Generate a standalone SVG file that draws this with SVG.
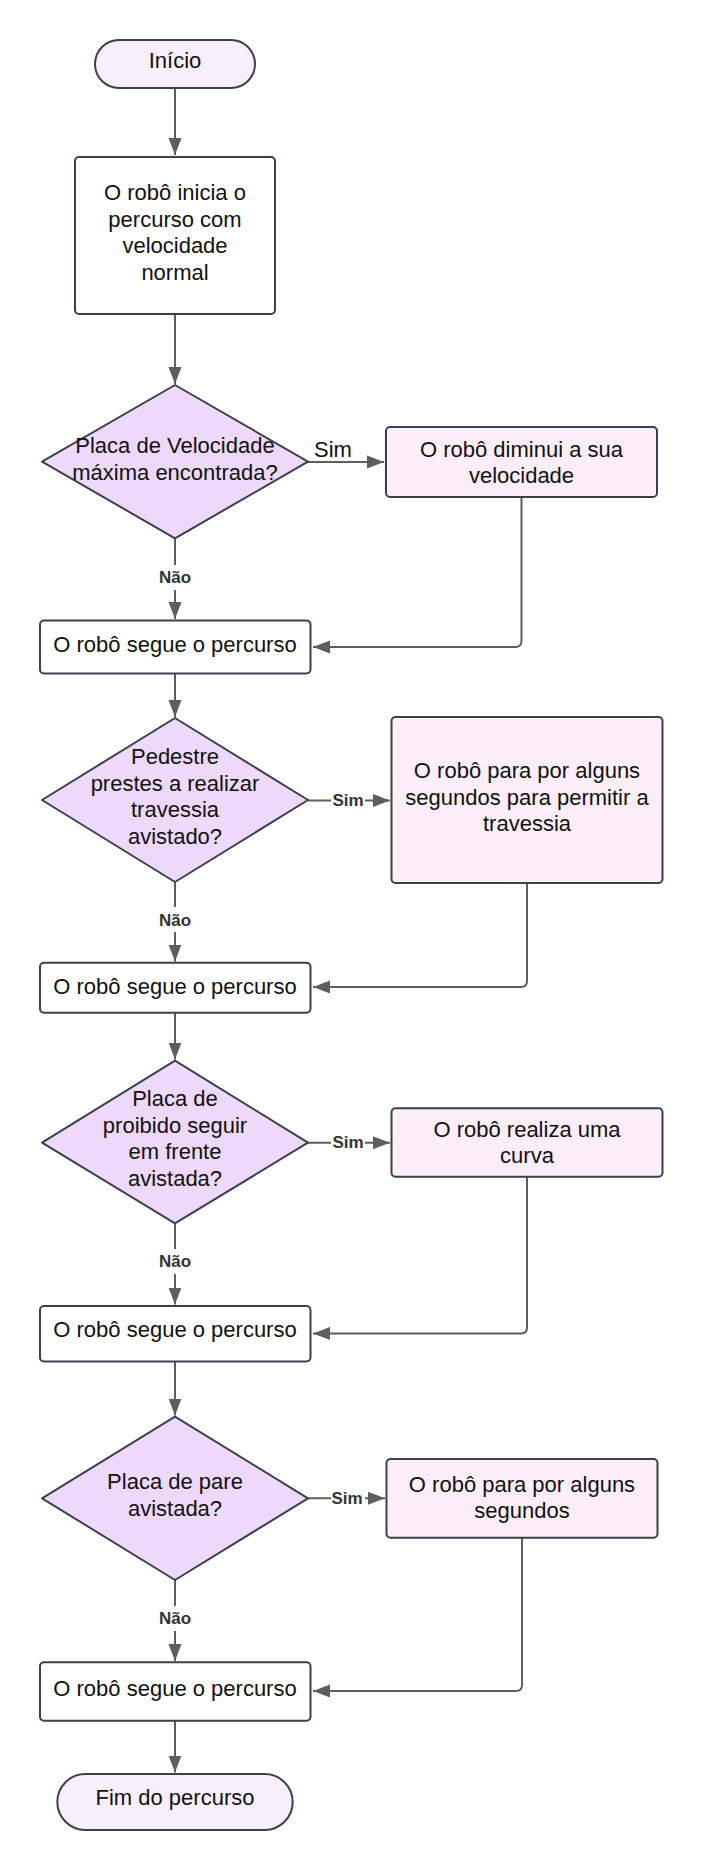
<svg xmlns="http://www.w3.org/2000/svg" width="701" height="1870" viewBox="0 0 701 1870">
<style>
text{font-family:"Liberation Sans",Arial,sans-serif;font-size:22px;fill:#111;text-anchor:middle}
.node{stroke:#3a414a;stroke-width:2;stroke-linejoin:round}
.term{fill:#f8effc}
.proc{fill:#ffffff}
.dec{fill:#efd9fb}
.act{fill:#fdeef9}
.conn{fill:none;stroke:#5e5e5e;stroke-width:2}
.lbl{font-size:17px;font-weight:bold;fill:#333}
.lblbg{fill:#ffffff}
</style>
<defs>
<marker id="arr" markerUnits="userSpaceOnUse" markerWidth="17" markerHeight="14" refX="17" refY="7" orient="auto">
<path d="M0,0.5 L17,7 L0,13.5 z" fill="#5e5e5e"/>
</marker>
</defs>
<rect width="701" height="1870" fill="#ffffff"/>

<g id="connectors">
<path class="conn" d="M175,88 V155" marker-end="url(#arr)"/>
<path class="conn" d="M175,314 V384" marker-end="url(#arr)"/>
<path class="conn" d="M308,462 H384" marker-end="url(#arr)"/>
<path class="conn" d="M175,538 V619" marker-end="url(#arr)"/>
<path class="conn" d="M521.5,497 V641 Q521.5,647 515.5,647 H313" marker-end="url(#arr)"/>

<path class="conn" d="M175,673 V717" marker-end="url(#arr)"/>
<path class="conn" d="M308,800.5 H390" marker-end="url(#arr)"/>
<path class="conn" d="M175,882 V961.5" marker-end="url(#arr)"/>
<path class="conn" d="M527,883 V981 Q527,987 521,987 H313" marker-end="url(#arr)"/>

<path class="conn" d="M175,1013 V1059.5" marker-end="url(#arr)"/>
<path class="conn" d="M308,1142.7 H390" marker-end="url(#arr)"/>
<path class="conn" d="M175,1223 V1304.5" marker-end="url(#arr)"/>
<path class="conn" d="M527,1177 V1327.5 Q527,1333.5 521,1333.5 H313" marker-end="url(#arr)"/>

<path class="conn" d="M175,1361.5 V1415.5" marker-end="url(#arr)"/>
<path class="conn" d="M308,1498.3 H385" marker-end="url(#arr)"/>
<path class="conn" d="M175,1580 V1661" marker-end="url(#arr)"/>
<path class="conn" d="M522,1538 V1685 Q522,1691 516,1691 H313" marker-end="url(#arr)"/>

<path class="conn" d="M175,1721 V1772.5" marker-end="url(#arr)"/>

<text x="333" y="457">Sim</text>
<rect class="lblbg" x="157" y="565" width="36" height="25"/>
<text class="lbl" x="175" y="583">Não</text>

<rect class="lblbg" x="331" y="790" width="34" height="20"/>
<text class="lbl" x="348" y="806">Sim</text>
<rect class="lblbg" x="157" y="907" width="36" height="25"/>
<text class="lbl" x="175" y="926">Não</text>

<rect class="lblbg" x="331" y="1132" width="34" height="20"/>
<text class="lbl" x="348" y="1148">Sim</text>
<rect class="lblbg" x="157" y="1249" width="36" height="25"/>
<text class="lbl" x="175" y="1267.3">Não</text>

<rect class="lblbg" x="331" y="1488" width="34" height="20"/>
<text class="lbl" x="347" y="1504">Sim</text>
<rect class="lblbg" x="157" y="1606" width="36" height="25"/>
<text class="lbl" x="175" y="1624">Não</text>
</g>

<g id="inicio">
<rect class="node term" x="95" y="40" width="160" height="48" rx="24"/>
<text x="175" y="68">Início</text>
</g>

<g id="inicia-percurso">
<rect class="node proc" x="75" y="157" width="200" height="157" rx="4"/>
<text x="175" y="200">O robô inicia o</text>
<text x="175" y="226.5">percurso com</text>
<text x="175" y="253">velocidade</text>
<text x="175" y="279.5">normal</text>
</g>

<g id="dec-velocidade">
<polygon class="node dec" points="175,385 308,461.7 175,538.3 42,461.7"/>
<text x="175" y="453.3">Placa de Velocidade</text>
<text x="175" y="479.5">máxima encontrada?</text>
</g>

<g id="diminui">
<rect class="node act" x="386" y="427" width="271" height="70" rx="4"/>
<text x="521.5" y="456.7">O robô diminui a sua</text>
<text x="521.5" y="483.3">velocidade</text>
</g>

<g id="segue-1">
<rect class="node proc" x="40" y="620.5" width="270.5" height="53" rx="4"/>
<text x="175" y="652.3">O robô segue o percurso</text>
</g>

<g id="dec-pedestre">
<polygon class="node dec" points="175,718 308,800 175,882 42,800"/>
<text x="175" y="764">Pedestre</text>
<text x="175" y="790.7">prestes a realizar</text>
<text x="175" y="817.3">travessia</text>
<text x="175" y="844">avistado?</text>
</g>

<g id="para-travessia">
<rect class="node act" x="391.5" y="717" width="271" height="166" rx="4"/>
<text x="527" y="778">O robô para por alguns</text>
<text x="527" y="804.5">segundos para permitir a</text>
<text x="527" y="831">travessia</text>
</g>

<g id="segue-2">
<rect class="node proc" x="40" y="962.7" width="270.5" height="50" rx="4"/>
<text x="175" y="994">O robô segue o percurso</text>
</g>

<g id="dec-proibido">
<polygon class="node dec" points="175,1060.7 308,1142.7 175,1223.3 42,1142.7"/>
<text x="175" y="1106">Placa de</text>
<text x="175" y="1132.7">proibido seguir</text>
<text x="175" y="1159.3">em frente</text>
<text x="175" y="1186">avistada?</text>
</g>

<g id="curva">
<rect class="node act" x="391.5" y="1108.3" width="271" height="68.4" rx="4"/>
<text x="527" y="1137.3">O robô realiza uma</text>
<text x="527" y="1163.3">curva</text>
</g>

<g id="segue-3">
<rect class="node proc" x="40" y="1306" width="270.5" height="55.5" rx="4"/>
<text x="175" y="1337.3">O robô segue o percurso</text>
</g>

<g id="dec-pare">
<polygon class="node dec" points="175,1416.7 308,1498.3 175,1580 42,1498.3"/>
<text x="175" y="1489.3">Placa de pare</text>
<text x="175" y="1516">avistada?</text>
</g>

<g id="para-segundos">
<rect class="node act" x="386.5" y="1459" width="271" height="78.7" rx="4"/>
<text x="522" y="1491.7">O robô para por alguns</text>
<text x="522" y="1518.3">segundos</text>
</g>

<g id="segue-4">
<rect class="node proc" x="40" y="1662.3" width="270.5" height="58.4" rx="4"/>
<text x="175" y="1696">O robô segue o percurso</text>
</g>

<g id="fim">
<rect class="node term" x="57.3" y="1774" width="235.4" height="56" rx="28"/>
<text x="175" y="1805">Fim do percurso</text>
</g>
</svg>
